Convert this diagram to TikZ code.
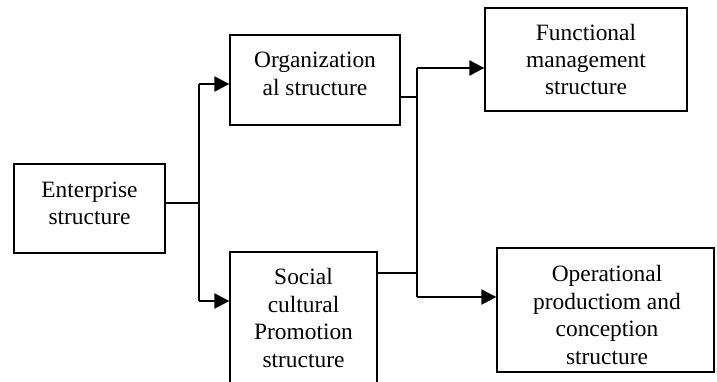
\documentclass[tikz,border=0pt]{standalone}
\usepackage{fontspec}
\setmainfont{Liberation Serif}
\usetikzlibrary{arrows.meta}
\begin{document}
\begin{tikzpicture}[x=1bp,y=-1bp,
  box/.style={draw,line width=1.3bp,inner sep=0pt,minimum width=#1},
  lbl/.style={align=center,inner sep=0pt,font=\fontsize{23.5}{27.5}\selectfont},
  link/.style={line width=2.2bp},
  tip/.style={line width=2.2bp,-{Triangle[length=15bp,width=15bp]}}]
\useasboundingbox (0,0) rectangle (717,381);

% boxes
\node[box=151bp,minimum height=89bp]  (ent) at (89.5,208.5) {};
\node[box=170bp,minimum height=90bp]  (org) at (315,80) {};
\node[box=202bp,minimum height=103bp] (fun) at (586,59.5) {};
\node[box=147bp,minimum height=132bp] (soc) at (303.5,318) {};
\node[box=217bp,minimum height=124bp] (ope) at (605.5,310) {};

% labels
\node[lbl] (entT) at (89.5,203.5) {Enterprise\\structure};
\node[lbl] (orgT) at (315,74) {Organization\\al structure};
\node[lbl] (funT) at (586,59.5) {Functional\\management\\structure};
\node[lbl] (socT) at (303.5,318) {Social\\cultural\\Promotion\\structure};
\node[lbl] (opeT) at (607,315) {Operational\\productiom and\\conception\\structure};

% junctions
\coordinate (a0) at (199,203);
\coordinate (a1) at (199,84);
\coordinate (a2) at (199,301);
\coordinate (b0) at (417,97);
\coordinate (b1) at (417,68);
\coordinate (b2) at (417,297);
\coordinate (b3) at (417,273);

% left fork
\draw[link] (ent.east |- a0) -- (a0);
\draw[link] (a1) -- (a2);
\draw[tip] (a1) -- (org.west |- a1);
\draw[tip] (a2) -- (soc.west |- a2);

% right fork
\draw[link] (org.east |- b0) -- (b0);
\draw[link] (soc.east |- b3) -- (b3);
\draw[link] (b1) -- (b2);
\draw[tip] (b1) -- (fun.west |- b1);
\draw[tip] (b2) -- (ope.west |- b2);
\end{tikzpicture}
\end{document}
